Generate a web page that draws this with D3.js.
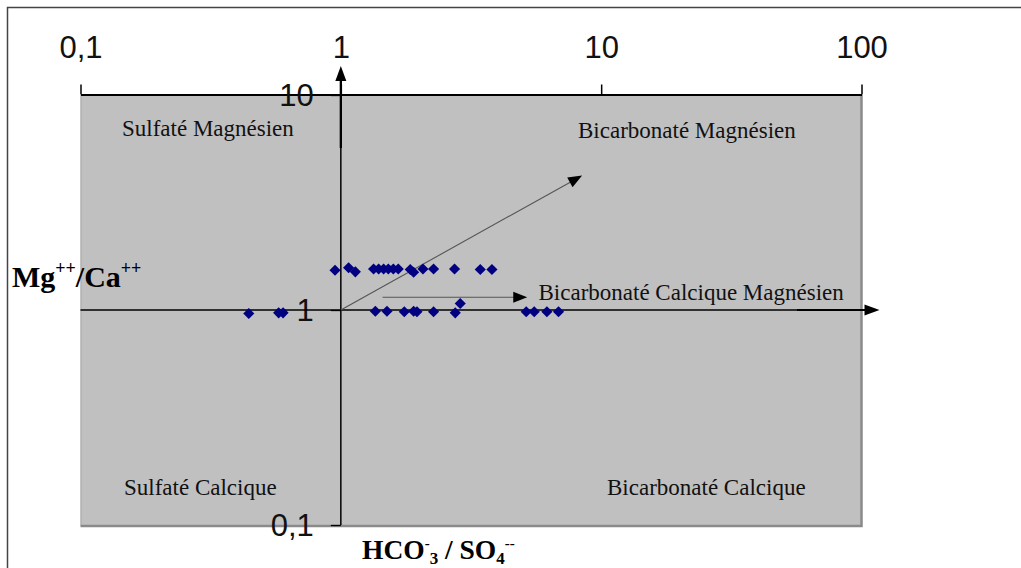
<!DOCTYPE html>
<html><head><meta charset="utf-8">
<script src="https://cdn.jsdelivr.net/npm/d3@7"></script>
<style>body{margin:0;background:#fff}svg{display:block}</style>
</head><body><svg id="c" width="1021" height="568"></svg>
<script>
// ---- data ----
const xTickValues = [0.1, 1, 10, 100];
const xTickLabels = ["0,1", "1", "10", "100"];
const yTickValues = [0.1, 1, 10];
const yTickLabels = ["0,1", "1", "10"];
// HCO3-/SO4-- ratio (x) and Mg++/Ca++ ratio (y) for each sample
const hco3so4 = [0.95, 1.071, 1.137, 1.336, 1.397, 1.46, 1.522, 1.591, 1.662, 1.848, 1.904, 2.068, 2.271, 2.734, 3.432, 3.806,
                 0.443, 0.577, 0.600, 1.357, 1.504, 1.753, 1.904, 1.961, 2.271, 2.751, 2.875, 5.154, 5.532, 6.188, 6.858];
const mgca    = [1.531, 1.572, 1.505, 1.551, 1.551, 1.551, 1.551, 1.551, 1.551, 1.543, 1.499, 1.551, 1.551, 1.551, 1.543, 1.543,
                 0.963, 0.970, 0.970, 0.987, 0.987, 0.981, 0.987, 0.981, 0.981, 0.970, 1.072, 0.981, 0.981, 0.981, 0.981];
const regionNames = ["Sulfaté Magnésien", "Bicarbonaté Magnésien", "Bicarbonaté Calcique Magnésien", "Sulfaté Calcique", "Bicarbonaté Calcique"];
// annotation arrows in data space: [x1, y1, x2, y2]
const trendArrows = [[1, 1, 8.45, 4.22], [1.447, 1.147, 5.2, 1.147]];

// ---- layout ----
const svg = d3.select("#c");
const L = 80.5, R = 861.5, T = 95, B = 525;
const x = d3.scaleLog().domain([0.1, 100]).range([L, R]);
const y = d3.scaleLog().domain([0.1, 10]).range([B, T]);
const serif = "'Liberation Serif','Times New Roman',serif";
const sans = "'Liberation Sans',Arial,sans-serif";

// outer frame
svg.append("path").attr("d", "M7.5,568V7.5H1021").attr("fill", "none").attr("stroke", "#444").attr("stroke-width", 1.5);

// plot background
svg.append("rect").attr("x", L).attr("y", T).attr("width", R - L).attr("height", B - T + 1).attr("fill", "#c0c0c0");
svg.append("path").attr("d", `M${R},${T}V${B + 1}H${L}`).attr("fill", "none").attr("stroke", "#8a8a8a").attr("stroke-width", 2.5);
svg.append("line").attr("x1", L + 0.5).attr("x2", L + 0.5).attr("y1", T).attr("y2", B).attr("stroke", "#a8a8a8").attr("stroke-width", 1);

function arrowHead(g, x1, y1, x2, y2, len, w) {
  const a = Math.atan2(y2 - y1, x2 - x1);
  const bx = x2 - len * Math.cos(a), by = y2 - len * Math.sin(a);
  const px = -Math.sin(a) * w / 2, py = Math.cos(a) * w / 2;
  g.append("path").attr("d", `M${x2},${y2}L${bx + px},${by + py}L${bx - px},${by - py}Z`).attr("fill", "#000");
}

// top axis
const xAxis = d3.axisTop(x).tickValues(xTickValues).tickFormat((d, i) => xTickLabels[i])
  .tickSize(10).tickSizeOuter(0).tickPadding(27);
const gx = svg.append("g").attr("transform", `translate(0,${T - 0.5})`).call(xAxis);
gx.select(".domain").attr("stroke", "#000").attr("stroke-width", 1.8);
gx.selectAll(".tick line").attr("stroke", "#000").attr("stroke-width", 1.5);
gx.selectAll(".tick text").attr("font-family", sans).attr("font-size", 31).attr("fill", "#111");

// left (vertical) axis at x = 1
const x0 = x(1);
const yAxis = d3.axisLeft(y).tickValues(yTickValues).tickFormat((d, i) => yTickLabels[i])
  .tickSize(10).tickSizeOuter(0).tickPadding(17);
const gy = svg.append("g").attr("transform", `translate(${x0},0)`).call(yAxis);
gy.select(".domain").remove();
gy.selectAll(".tick line").attr("stroke", "#000").attr("stroke-width", 1.3);
gy.selectAll(".tick text").attr("font-family", sans).attr("font-size", 31).attr("fill", "#111").attr("dy", "0.34em");

// vertical axis line with arrow
svg.append("line").attr("x1", x0).attr("x2", x0).attr("y1", y(0.1)).attr("y2", 76).attr("stroke", "#000").attr("stroke-width", 1.5);
svg.append("line").attr("x1", x0).attr("x2", x0).attr("y1", 80).attr("y2", 148).attr("stroke", "#000").attr("stroke-width", 2.3);
arrowHead(svg, x0, 100, x0, 66, 15, 11);

// horizontal axis at y = 1
const y0 = y(1);
svg.append("line").attr("x1", L).attr("x2", R + 6).attr("y1", y0).attr("y2", y0).attr("stroke", "#000").attr("stroke-width", 1.4);
svg.append("line").attr("x1", 797).attr("x2", R + 6).attr("y1", y0).attr("y2", y0).attr("stroke", "#000").attr("stroke-width", 2.2);
arrowHead(svg, R - 20, y0, R + 18, y0, 15, 11);

// trend arrows
trendArrows.forEach(a => {
  const X1 = x(a[0]), Y1 = y(a[1]), X2 = x(a[2]), Y2 = y(a[3]);
  const ang = Math.atan2(Y2 - Y1, X2 - X1);
  svg.append("line").attr("x1", X1).attr("y1", Y1).attr("x2", X2 - 10 * Math.cos(ang)).attr("y2", Y2 - 10 * Math.sin(ang))
    .attr("stroke", "#555").attr("stroke-width", 1.1);
  arrowHead(svg, X1, Y1, X2, Y2, 14, 11);
});

// points
const pts = hco3so4.map((v, i) => [v, mgca[i]]);
svg.append("g").selectAll("path").data(pts).join("path")
  .attr("d", d3.symbol(d3.symbolSquare, 62))
  .attr("transform", d => `translate(${x(d[0])},${y(d[1])}) rotate(45)`)
  .attr("fill", "#000080");

// region labels
const regionPos = [[122, 135.5], [578, 137.5], [538.5, 300], [124, 495], [607, 495]];
svg.append("g").selectAll("text").data(regionNames).join("text")
  .attr("x", (d, i) => regionPos[i][0]).attr("y", (d, i) => regionPos[i][1])
  .attr("font-family", serif).attr("font-size", 23).attr("fill", "#111").text(d => d);

// axis titles
const ty = svg.append("text").attr("x", 12).attr("y", 286.5).attr("font-family", serif)
  .attr("font-size", 30).attr("font-weight", "bold").attr("fill", "#000");
ty.append("tspan").text("Mg");
ty.append("tspan").attr("font-size", 18).attr("dy", -13).text("++");
ty.append("tspan").attr("dy", 13).text("/Ca");
ty.append("tspan").attr("font-size", 18).attr("dy", -13).text("++");

const tx = svg.append("text").attr("x", 362).attr("y", 559).attr("font-family", serif)
  .attr("font-size", 27.5).attr("font-weight", "bold").attr("fill", "#000");
tx.append("tspan").text("HCO");
tx.append("tspan").attr("font-size", 15).attr("dy", -11).text("-");
tx.append("tspan").attr("font-size", 17).attr("dy", 16).text("3");
tx.append("tspan").attr("dy", -5).text(" / SO");
tx.append("tspan").attr("font-size", 17).attr("dy", 5).text("4");
tx.append("tspan").attr("font-size", 15).attr("dy", -16).text("--");
</script></body></html>
